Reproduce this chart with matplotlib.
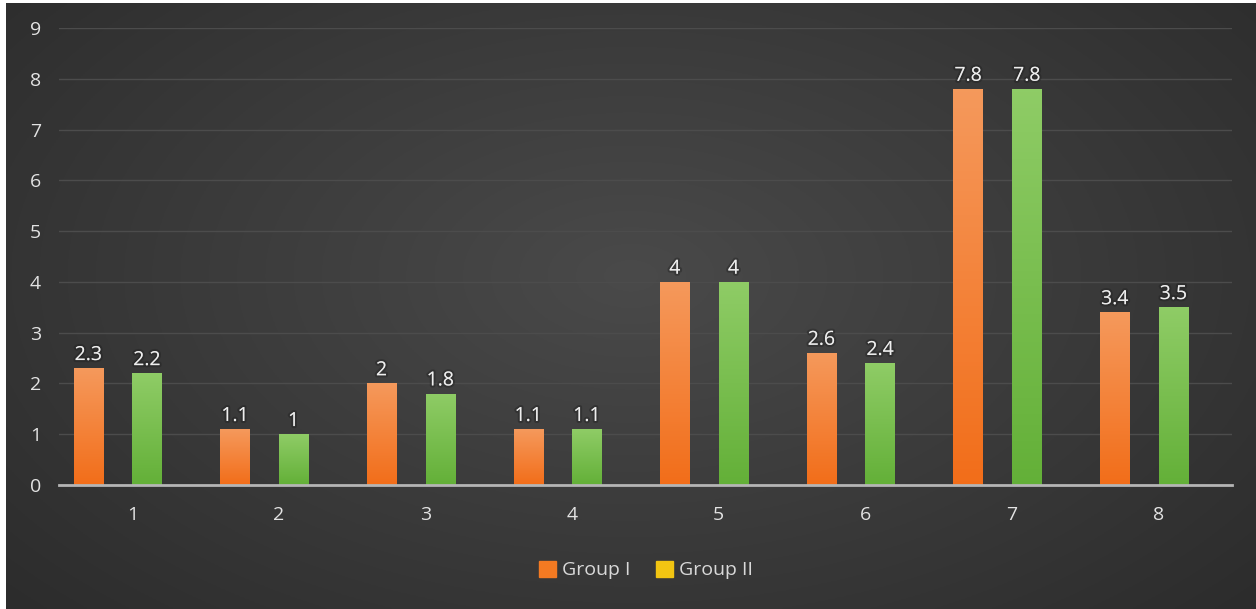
import numpy as np
import matplotlib
matplotlib.use('Agg')
import matplotlib.pyplot as plt
from matplotlib.patches import Patch
import matplotlib.patheffects as pe

categories = ['1', '2', '3', '4', '5', '6', '7', '8']
group_1 = [2.3, 1.1, 2, 1.1, 4, 2.6, 7.8, 3.4]
group_2 = [2.2, 1, 1.8, 1.1, 4, 2.4, 7.8, 3.5]
legend_labels = ['Group I', 'Group II']

plt.rcParams['font.family'] = ['Open Sans', 'DejaVu Sans']

fig = plt.figure(figsize=(12.56, 6.09), dpi=100)
fig.patch.set_facecolor('white')

# dark radial background (white sliver left/top like the reference)
bg = fig.add_axes([6 / 1256, 0, 1250 / 1256, 606 / 609])
yy, xx = np.mgrid[0:1:300j, 0:1:600j]
r = np.sqrt(((xx - 0.5) / 0.75) ** 2 + ((yy - 0.45) / 0.9) ** 2)
shade = np.clip(1 - r, 0, 1)
base = 0.16 + 0.13 * shade
bg.imshow(np.dstack([base, base, base]), aspect='auto', extent=[0, 1, 0, 1])
bg.set_axis_off()

ax = fig.add_axes([59 / 1256, 124 / 609, 1173 / 1256, 457 / 609])
ax.patch.set_alpha(0)

x = np.arange(1, len(categories) + 1)
w = 0.2
orange_grad = [(0.96, 0.60, 0.36), (0.95, 0.43, 0.10)]
green_grad = [(0.56, 0.80, 0.40), (0.39, 0.69, 0.22)]

bars1 = ax.bar(x - 0.3, group_1, w, color='#f27020', zorder=3)
bars2 = ax.bar(x + 0.1, group_2, w, color='#66b33a', zorder=3)


def gradient(bars, cols):
    top, bottom = np.array(cols[0]), np.array(cols[1])
    t = np.linspace(0, 1, 100)[:, None]
    img = (top * (1 - t) + bottom * t)[:, None, :]
    for b in bars:
        x0, h = b.get_x(), b.get_height()
        im = ax.imshow(img, aspect='auto', extent=[x0, x0 + b.get_width(), 0, h],
                       zorder=4)
        im.set_clip_path(b)


gradient(bars1, orange_grad)
gradient(bars2, green_grad)

shadow = [pe.withStroke(linewidth=3, foreground=(0.1, 0.1, 0.1, 0.35))]
for bars, vals in ((bars1, group_1), (bars2, group_2)):
    for b, v in zip(bars, vals):
        ax.annotate('{:g}'.format(v), (b.get_x() + b.get_width() / 2, v),
                    xytext=(0, 3), textcoords='offset points', ha='center', va='bottom',
                    color='#eeeeee', fontsize=14, zorder=5, path_effects=shadow)

ax.set_xlim(0.5, 8.5)
ax.set_ylim(0, 9)
ax.set_yticks(range(0, 10))
ax.set_xticks(x)
ax.set_xticklabels(categories)
ax.tick_params(axis='both', length=0, colors='#e3e3e3', labelsize=14)
ax.tick_params(axis='y', pad=13)
ax.tick_params(axis='x', pad=15)
ax.grid(axis='y', color='#4c4c4c', linewidth=1, zorder=0)
for s in ('top', 'right', 'left'):
    ax.spines[s].set_visible(False)
ax.spines['bottom'].set_color('#b5b5b5')
ax.spines['bottom'].set_linewidth(2)
ax.spines['bottom'].set_zorder(6)

handles = [Patch(color='#f47a22'), Patch(color='#f2c512')]
leg = fig.legend(handles, legend_labels, loc='center', bbox_to_anchor=(646 / 1256, 1 - 570 / 609),
                 ncol=2, frameon=False, fontsize=14, handlelength=0.9, handleheight=0.9,
                 handletextpad=0.3, columnspacing=1.3, labelcolor='#d9d9d9')

plt.savefig('out.png', dpi=100)
